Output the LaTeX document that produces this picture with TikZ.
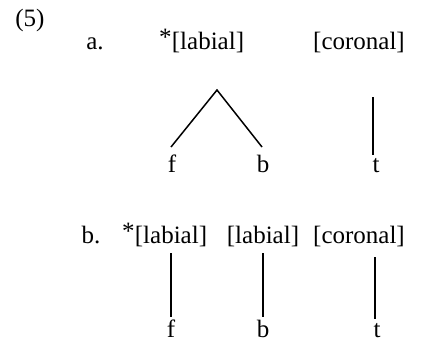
\documentclass[tikz,border=0pt]{standalone}
\usepackage{fontspec}
\setmainfont{Liberation Serif}
\begin{document}
\begin{tikzpicture}[x=1pt,y=-1pt,
  lab/.style={inner sep=0pt,anchor=base,font=\fontsize{25}{30}\selectfont},
  seg/.style={inner sep=0pt,anchor=base,font=\fontsize{25}{30}\selectfont},
  link/.style={line width=1.5pt}]
\useasboundingbox (0,0) rectangle (423,341);
% example number
\node[lab] (num) at (30,26) {(5)};
% row a
\node[lab] (ma) at (95,49) {a.};
\node[lab] (labA) at (208,49) {[labial]};
\node[lab,anchor=base east] (starA) at (labA.base west) {\raisebox{0.14em}{*}};
\node[lab] (corA) at (359,49) {[coronal]};
\node[seg] (fA) at (172,172) {f};
\node[seg] (bA) at (263,172) {b};
\node[seg] (tA) at (376,172) {t};
\coordinate (apexA) at (217,90);
\coordinate (fAe) at (171,147);
\coordinate (bAe) at (262,147);
\coordinate (tAs) at (373,97);
\coordinate (tAe) at (373,155);
\draw[link] (fAe) -- (apexA) -- (bAe);
\draw[link] (tAs) -- (tAe);
% row b
\node[lab] (mb) at (91,243) {b.};
\node[lab] (labB) at (171,243) {[labial]};
\node[lab,anchor=base east] (starB) at (labB.base west) {\raisebox{0.14em}{*}};
\node[lab] (labC) at (263,243) {[labial]};
\node[lab] (corB) at (359,243) {[coronal]};
\node[seg] (fB) at (171,337) {f};
\node[seg] (bB) at (263,337) {b};
\node[seg] (tB) at (377,337) {t};
\coordinate (fBs) at (171,253);
\coordinate (fBe) at (171,317);
\coordinate (bBs) at (263,253);
\coordinate (bBe) at (263,317);
\coordinate (tBs) at (375,257);
\coordinate (tBe) at (375,319);
\draw[link] (fBs) -- (fBe);
\draw[link] (bBs) -- (bBe);
\draw[link] (tBs) -- (tBe);
\end{tikzpicture}
\end{document}
